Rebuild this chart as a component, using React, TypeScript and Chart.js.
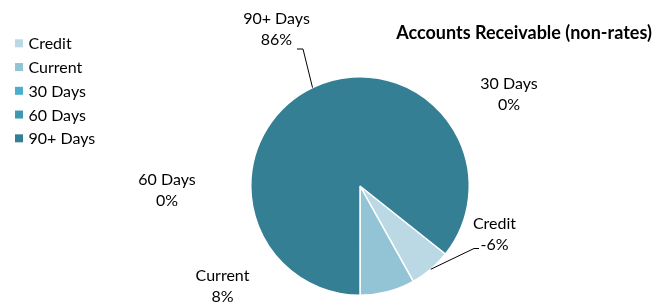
import React, { useEffect, useRef } from "react";
import { Chart, registerables } from "chart.js";

Chart.register(...registerables);

const categories = ["Credit", "Current", "30 Days", "60 Days", "90+ Days"];
const shares = [-6.2, 8.1, 0, 0, 85.7];
const colors = ["#bad9e5", "#93c4d6", "#4aafc9", "#3e98b0", "#357f94"];
const title = "Accounts Receivable (non-rates)";

const FONT = "Lato, 'Noto Sans', sans-serif";

// label text placement relative to pie center: [dx of text center, dy of first baseline]
const labelOffsets: [number, number][] = [
  [134.5, 43],
  [-137.5, 94.7],
  [149, -97],
  [-193, -1],
  [-83.5, -162],
];
// leader lines: elbow and end offsets relative to pie center (null = none)
const leaders: ([number, number][] | null)[] = [
  [[114, 62.5], [119, 62.5]],
  null,
  null,
  null,
  [[-57, -137], [-63, -137]],
];

const overlay = {
  id: "overlay",
  afterDraw(chart: any) {
    const ctx = chart.ctx;
    const meta = chart.getDatasetMeta(0);
    const arcs = meta.data;
    ctx.save();
    // title
    ctx.fillStyle = "#000";
    ctx.font = `bold 18px ${FONT}`;
    ctx.textAlign = "center";
    ctx.textBaseline = "alphabetic";
    ctx.fillText(title, 524, 39);

    // legend
    ctx.font = `16px ${FONT}`;
    ctx.textAlign = "left";
    categories.forEach((c, i) => {
      const y = 43.3 + i * 23.75;
      ctx.fillStyle = colors[i];
      ctx.fillRect(15, y - 4, 8, 8);
      ctx.fillStyle = "#000";
      ctx.fillText(c, 28.5, y + 6);
    });

    // data labels
    const data = chart.data.datasets[0].data as number[];
    arcs.forEach((arc: any, i: number) => {
      const cx = arc.x;
      const cy = arc.y;
      const [dx, dy] = labelOffsets[i];
      ctx.fillStyle = "#000";
      ctx.textAlign = "center";
      ctx.font = `16px ${FONT}`;
      ctx.fillText(categories[i], cx + dx, cy + dy);
      ctx.fillText(`${Math.round(data[i])}%`, cx + dx, cy + dy + 21);
      const l = leaders[i];
      if (l) {
        const mid = (arc.startAngle + arc.endAngle) / 2;
        const r = arc.outerRadius;
        ctx.strokeStyle = "#000";
        ctx.lineWidth = 1;
        ctx.beginPath();
        ctx.moveTo(cx + Math.cos(mid) * r, cy + Math.sin(mid) * r);
        l.forEach(([px, py]) => ctx.lineTo(cx + px, cy + py));
        ctx.stroke();
      }
    });
    ctx.restore();
  },
};

export default function App() {
  const ref = useRef<HTMLCanvasElement | null>(null);
  useEffect(() => {
    if (!ref.current) return;
    const chart = new Chart(ref.current, {
      type: "pie",
      data: {
        labels: categories,
        datasets: [
          {
            data: shares,
            backgroundColor: colors,
            borderColor: "#ffffff",
            borderWidth: 1.5,
          },
        ],
      },
      options: {
        responsive: false,
        animation: false,
        rotation: 128.5,
        layout: { padding: { left: 250, right: 189, top: 76, bottom: 6 } },
        plugins: {
          legend: { display: false },
          title: { display: false },
          tooltip: { enabled: false },
        },
      },
      plugins: [overlay],
    });
    return () => chart.destroy();
  }, []);
  return (
    <div style={{ position: "absolute", left: 0, top: 0, width: 659, height: 302, background: "#fff" }}>
      <canvas ref={ref} width={659} height={302} style={{ display: "block" }} />
    </div>
  );
}
